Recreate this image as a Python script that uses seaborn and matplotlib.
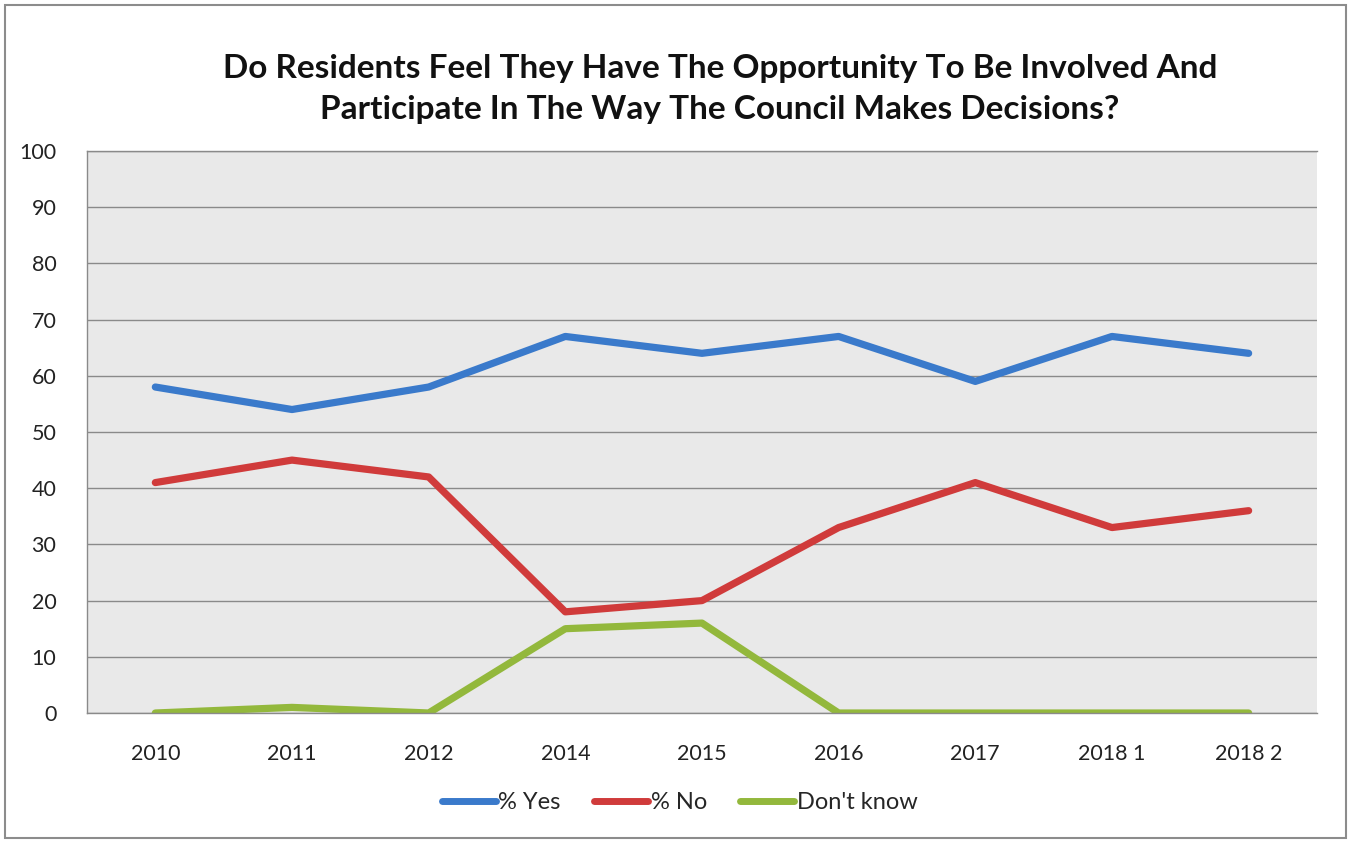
import matplotlib
matplotlib.use("Agg")
import matplotlib.pyplot as plt
import seaborn as sns
import pandas as pd
from matplotlib.patches import Rectangle

# Survey waves and responses (%)
waves = ["2010", "2011", "2012", "2014", "2015", "2016", "2017", "2018 1", "2018 2"]
pct_yes = [58, 54, 58, 67, 64, 67, 59, 67, 64]
pct_no = [41, 45, 42, 18, 20, 33, 41, 33, 36]
dont_know = [0, 1, 0, 15, 16, 0, 0, 0, 0]
series_names = ["% Yes", "% No", "Don't know"]
colors = ["#3a7acb", "#d03b3b", "#93b83c"]

rows = []
for name, vals in zip(series_names, [pct_yes, pct_no, dont_know]):
    for i, v in enumerate(vals):
        rows.append({"pos": i, "value": v, "series": name})
df = pd.DataFrame(rows)

sns.set_theme(style="white")
plt.rcParams["font.family"] = ["Lato", "DejaVu Sans"]

fig = plt.figure(figsize=(13.51, 8.43), dpi=100)
fig.patch.set_facecolor("white")
# outer chart border
fig.patches.append(Rectangle((0.004, 0.006), 0.992, 0.988, transform=fig.transFigure,
                             fill=False, edgecolor="#8c8c8c", linewidth=1.5))

ax = fig.add_axes([0.0644, 0.1542, 0.9104, 0.6667])
ax.set_facecolor("#e9e9e9")

sns.lineplot(data=df, x="pos", y="value", hue="series", hue_order=series_names,
             palette=colors, linewidth=5.2, ax=ax, legend=False,
             solid_capstyle="round")

ax.set_xlim(-0.5, len(waves) - 0.5)
ax.set_ylim(0, 100)
ax.set_yticks(range(0, 101, 10))
ax.set_xticks(range(len(waves)))
ax.set_xticklabels(waves)
ax.yaxis.grid(True, color="#8a8a8a", linewidth=1.0)
ax.set_axisbelow(True)
ax.tick_params(axis="both", length=0, labelsize=15.5, colors="#222222")
ax.tick_params(axis="x", pad=22)
ax.tick_params(axis="y", pad=22)
ax.set_xlabel("")
ax.set_ylabel("")
ax.spines["right"].set_visible(False)
for side in ["left", "bottom", "top"]:
    ax.spines[side].set_color("#8a8a8a")
    ax.spines[side].set_linewidth(1.0)

fig.text(0.533, 0.895,
         "Do Residents Feel They Have The Opportunity To Be Involved And\n"
         "Participate In The Way The Council Makes Decisions?",
         ha="center", va="center", fontsize=24, fontweight="bold",
         linespacing=1.5, color="#111111")

handles = [plt.Line2D([0], [0], color=c, linewidth=5, solid_capstyle="round") for c in colors]
fig.legend(handles, series_names, loc="center", bbox_to_anchor=(0.503, 0.048),
           ncol=3, frameon=False, fontsize=17, handlelength=2.3,
           handletextpad=0.1, columnspacing=1.4)

fig.savefig("out.png", dpi=100, facecolor="white")
